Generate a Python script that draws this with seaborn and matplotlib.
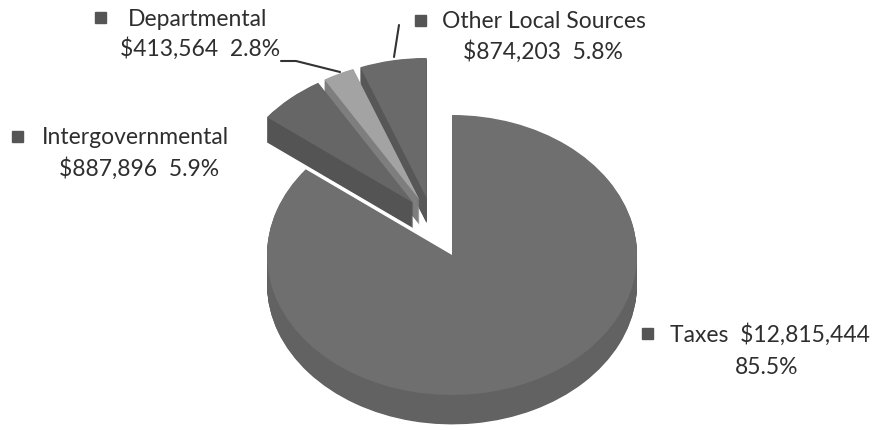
import numpy as np
import matplotlib
matplotlib.use("Agg")
import matplotlib.pyplot as plt
import seaborn as sns
from matplotlib.lines import Line2D
from matplotlib.patches import Rectangle

# ---- data -------------------------------------------------------------
categories = ["Taxes", "Intergovernmental", "Departmental", "Other Local Sources"]
amounts = [12815444, 887896, 413564, 874203]
percents = [85.5, 5.9, 2.8, 5.8]
label_line1 = ["Taxes  $12,815,444", "Intergovernmental", "Departmental", "Other Local Sources"]
label_line2 = ["85.5%", "$887,896  5.9%", "$413,564  2.8%", "$874,203  5.8%"]

# ---- style ------------------------------------------------------------
sns.set_theme(style="white")
plt.rcParams["font.family"] = ["Lato", "DejaVu Sans"]

W, H = 873, 430
fig = plt.figure(figsize=(W / 100, H / 100), dpi=100)
fig.patch.set_facecolor("white")
ax = fig.add_axes([0, 0, 1, 1])

top_colors = ["#6f6f6f", "#666666", "#a3a3a3", "#6a6a6a"]
side_colors = ["#626262", "#545454", "#7e7e7e", "#575757"]

# pixel geometry of the (tilted) pie
CX, CY = 452, 255       # centre of top face in pixels (from top)
RX, RY = 185, 140       # radii in pixels


def fx(x):
    return x / W


def fy(y):
    return 1 - y / H


def draw_solid(mask, center, explode, depth, n=40):
    cx, cy = center
    steps = np.linspace(depth, 0, n)
    for k, d in enumerate(steps):
        last = k == n - 1
        base = top_colors if last else side_colors
        cols = [c if m else (0, 0, 0, 0) for c, m in zip(base, mask)]
        ax.pie(amounts, colors=cols, startangle=90, counterclock=False,
               explode=explode, center=(cx, cy - d), radius=1,
               wedgeprops=dict(linewidth=0, antialiased=True))


# small exploded slices (behind)
draw_solid([False, True, True, True], (-0.11, 0.26), [0, 0.15, 0.15, 0.15], 0.18)
# main Taxes slice
draw_solid([True, False, False, False], (0, 0), [0, 0, 0, 0], 0.21)

ax.set_xlim(-CX / RX, (W - CX) / RX)
ax.set_ylim(-(H - CY) / RY, CY / RY)
ax.set_aspect("auto")
ax.axis("off")

# ---- labels -------------------------------------------------------------
txt_color = "#2e2e2e"
fs = 16.5
marker_pos = [(647, 333), (17, 137), (100, 17), (420, 20)]
line1_left = [670, 42, 128, 442]
line1_y = [335, 138, 19, 21]
line2_cx = [767, 139, 200, 543]
line2_y = [367, 169, 49, 52]

for i in range(len(categories)):
    mx, my = marker_pos[i]
    fig.patches.append(Rectangle((fx(mx - 5.5), fy(my + 5.5)), 11 / W, 11 / H,
                                 transform=fig.transFigure, color="#555555"))
    fig.text(fx(line1_left[i]), fy(line1_y[i]), label_line1[i], ha="left",
             va="center", fontsize=fs, color=txt_color)
    fig.text(fx(line2_cx[i]), fy(line2_y[i]), label_line2[i], ha="center",
             va="center", fontsize=fs, color=txt_color)

# leader lines
lead1 = [(281, 61), (296, 61), (340, 72)]
lead2 = [(399, 25), (394, 57)]
for pts in (lead1, lead2):
    fig.lines.append(Line2D([fx(p[0]) for p in pts], [fy(p[1]) for p in pts],
                            transform=fig.transFigure, color="#333333", lw=1.5))

fig.savefig("out.png", dpi=100)
